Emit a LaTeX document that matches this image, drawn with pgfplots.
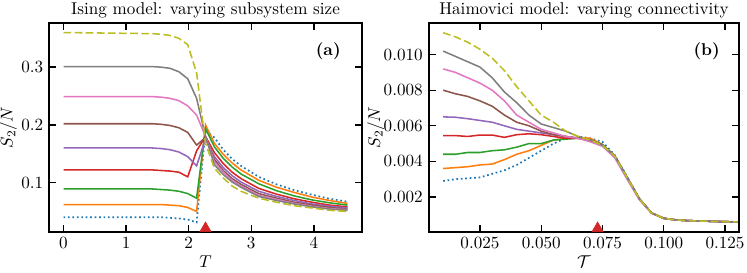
\documentclass[border=0pt]{standalone}
\usepackage{pgfplots}
\usepackage{pgfplotstable}
\pgfplotsset{compat=1.18}
\definecolor{C0}{HTML}{1F77B4}
\definecolor{C1}{HTML}{FF7F0E}
\definecolor{C2}{HTML}{2CA02C}
\definecolor{C3}{HTML}{D62728}
\definecolor{C4}{HTML}{9467BD}
\definecolor{C5}{HTML}{8C564B}
\definecolor{C6}{HTML}{E377C2}
\definecolor{C7}{HTML}{7F7F7F}
\definecolor{C8}{HTML}{BCBD22}

\pgfplotstableread{
T     b     o     g     r     p     br    pk    gy    ol
0.000 0.040 0.062 0.089 0.122 0.160 0.202 0.249 0.301 0.360
1.418 0.040 0.062 0.089 0.122 0.160 0.202 0.249 0.301 0.358
1.560 0.040 0.062 0.088 0.121 0.159 0.201 0.248 0.300 0.357
1.702 0.039 0.061 0.087 0.120 0.157 0.199 0.246 0.298 0.355
1.844 0.038 0.060 0.085 0.118 0.153 0.195 0.242 0.292 0.350
1.985 0.036 0.057 0.081 0.110 0.145 0.187 0.233 0.280 0.339
2.127 0.031 0.050 0.073 0.155 0.129 0.165 0.217 0.246 0.290
2.269 0.190 0.200 0.194 0.180 0.176 0.178 0.180 0.180 0.168
2.411 0.178 0.168 0.162 0.152 0.145 0.140 0.136 0.131 0.125
2.553 0.157 0.149 0.142 0.133 0.126 0.121 0.118 0.114 0.108
2.695 0.141 0.134 0.127 0.118 0.112 0.107 0.104 0.101 0.094
2.836 0.129 0.122 0.115 0.107 0.101 0.097 0.094 0.092 0.085
3.120 0.110 0.104 0.098 0.090 0.085 0.081 0.078 0.076 0.073
3.404 0.097 0.092 0.086 0.080 0.076 0.073 0.071 0.069 0.066
3.687 0.087 0.083 0.077 0.072 0.069 0.066 0.064 0.063 0.060
3.971 0.079 0.075 0.070 0.066 0.063 0.061 0.059 0.058 0.056
4.254 0.072 0.069 0.065 0.061 0.059 0.057 0.055 0.054 0.052
4.538 0.067 0.064 0.061 0.058 0.056 0.054 0.053 0.052 0.050
}\ising

\pgfplotstableread{
T     b       o       g       r       p       br      pk      gy      ol
0.010 0.00290 0.00360 0.00440 0.00545 0.00650 0.00800 0.00920 0.01020 0.01123
0.015 0.00300 0.00365 0.00440 0.00545 0.00648 0.00780 0.00900 0.00990 0.01100
0.020 0.00305 0.00370 0.00450 0.00540 0.00640 0.00765 0.00870 0.00960 0.01070
0.025 0.00310 0.00380 0.00450 0.00548 0.00630 0.00740 0.00840 0.00930 0.01030
0.030 0.00330 0.00385 0.00460 0.00548 0.00620 0.00710 0.00800 0.00870 0.00980
0.035 0.00350 0.00410 0.00465 0.00535 0.00600 0.00660 0.00740 0.00790 0.00910
0.040 0.00380 0.00440 0.00480 0.00550 0.00580 0.00620 0.00660 0.00730 0.00820
0.045 0.00420 0.00460 0.00500 0.00555 0.00570 0.00600 0.00620 0.00660 0.00740
0.050 0.00460 0.00490 0.00500 0.00550 0.00560 0.00570 0.00580 0.00610 0.00660
0.055 0.00500 0.00520 0.00520 0.00540 0.00550 0.00550 0.00560 0.00590 0.00620
0.060 0.00530 0.00530 0.00525 0.00530 0.00540 0.00540 0.00540 0.00570 0.00570
0.065 0.00540 0.00535 0.00530 0.00530 0.00530 0.00530 0.00530 0.00540 0.00540
0.070 0.00530 0.00530 0.00520 0.00520 0.00520 0.00520 0.00510 0.00520 0.00520
0.075 0.00510 0.00495 0.00495 0.00490 0.00490 0.00490 0.00485 0.00490 0.00490
0.080 0.00435 0.00430 0.00432 0.00430 0.00430 0.00430 0.00420 0.00430 0.00430
0.085 0.00315 0.00310 0.00312 0.00310 0.00310 0.00310 0.00300 0.00310 0.00310
0.090 0.00192 0.00190 0.00190 0.00190 0.00190 0.00190 0.00185 0.00190 0.00190
0.095 0.00111 0.00110 0.00110 0.00110 0.00110 0.00110 0.00108 0.00110 0.00110
0.100 0.00080 0.00080 0.00080 0.00080 0.00080 0.00080 0.00080 0.00080 0.00080
0.105 0.00071 0.00071 0.00071 0.00071 0.00071 0.00071 0.00071 0.00071 0.00071
0.110 0.00067 0.00067 0.00067 0.00067 0.00067 0.00067 0.00067 0.00067 0.00067
0.115 0.00065 0.00065 0.00065 0.00065 0.00065 0.00065 0.00065 0.00065 0.00065
0.120 0.00063 0.00063 0.00063 0.00063 0.00063 0.00063 0.00063 0.00063 0.00063
0.125 0.00061 0.00061 0.00061 0.00061 0.00061 0.00061 0.00061 0.00061 0.00061
0.130 0.00060 0.00060 0.00060 0.00060 0.00060 0.00060 0.00060 0.00060 0.00060
}\haim

\pgfplotsset{
  panel/.style={
    scale only axis, anchor=south west,
    width=182.75pt, height=121.91pt,
    clip=false,
    tick align=inside,
    major tick length=4pt,
    every tick/.style={black, line width=0.8pt},
    axis line style={line width=1pt},
    scaled ticks=false,
    every axis title shift=0pt,
    title style={at={(axis description cs:0.5,1.0402)}, anchor=base},
    xlabel style={at={(axis description cs:0.5,-0.1739)}, anchor=base},
    ylabel={$S_2/N$},
  },
  ser/.style={line width=0.9pt},
  dotd/.style={line width=1pt, dash pattern=on 1pt off 1.6pt},
  dshd/.style={line width=0.9pt, dash pattern=on 4.5pt off 2pt},
}

\begin{document}
\begin{tikzpicture}[x=1pt,y=1pt]
\useasboundingbox (0,0) rectangle (437,159.7);
\begin{axis}[panel, at={(28.84pt,24.16pt)},
  xmin=-0.227, xmax=4.765, ymin=0.015, ymax=0.376,
  xtick={0,1,2,3,4}, ytick={0.1,0.2,0.3},
  yticklabel style={/pgf/number format/.cd, fixed, fixed zerofill, precision=1},
  ylabel style={at={(axis description cs:-0.1308,0.5)}, anchor=center},
  title={Ising model: varying subsystem size},
  xlabel={$T$},
]
\addplot[dotd, C0] table[x=T, y=b] {\ising};
\addplot[ser, C1] table[x=T, y=o] {\ising};
\addplot[ser, C2] table[x=T, y=g] {\ising};
\addplot[ser, C3] table[x=T, y=r] {\ising};
\addplot[ser, C4] table[x=T, y=p] {\ising};
\addplot[ser, C5] table[x=T, y=br] {\ising};
\addplot[ser, C6] table[x=T, y=pk] {\ising};
\addplot[ser, C7] table[x=T, y=gy] {\ising};
\addplot[dshd, C8] table[x=T, y=ol] {\ising};
\addplot[only marks, mark=triangle*, mark size=3.75pt, C3, mark options={draw=none, fill=C3}] coordinates {(2.269,0.0206)};
\node[font=\bfseries] at (rel axis cs:0.893,0.864) {(a)};
\end{axis}
\begin{axis}[panel, at={(250.79pt,24.16pt)}, width=181.70pt,
  xmin=0.0041, xmax=0.1308, ymin=0.00005, ymax=0.01176,
  xtick={0.025,0.05,0.075,0.1,0.125}, ytick={0.002,0.004,0.006,0.008,0.010},
  xticklabel style={/pgf/number format/.cd, fixed, fixed zerofill, precision=3},
  yticklabel style={/pgf/number format/.cd, fixed, fixed zerofill, precision=3},
  ylabel style={at={(axis description cs:-0.170,0.5)}, anchor=center},
  title={Haimovici model: varying connectivity},
  xlabel={$\mathcal{T}$},
]
\addplot[dotd, C0] table[x=T, y=b] {\haim};
\addplot[ser, C1] table[x=T, y=o] {\haim};
\addplot[ser, C2] table[x=T, y=g] {\haim};
\addplot[ser, C3] table[x=T, y=r] {\haim};
\addplot[ser, C4] table[x=T, y=p] {\haim};
\addplot[ser, C5] table[x=T, y=br] {\haim};
\addplot[ser, C6] table[x=T, y=pk] {\haim};
\addplot[ser, C7] table[x=T, y=gy] {\haim};
\addplot[dshd, C8] table[x=T, y=ol] {\haim};
\addplot[only marks, mark=triangle*, mark size=3.75pt, C3, mark options={draw=none, fill=C3}] coordinates {(0.073,0.00023)};
\node[font=\bfseries] at (rel axis cs:0.895,0.864) {(b)};
\end{axis}
\end{tikzpicture}
\end{document}
